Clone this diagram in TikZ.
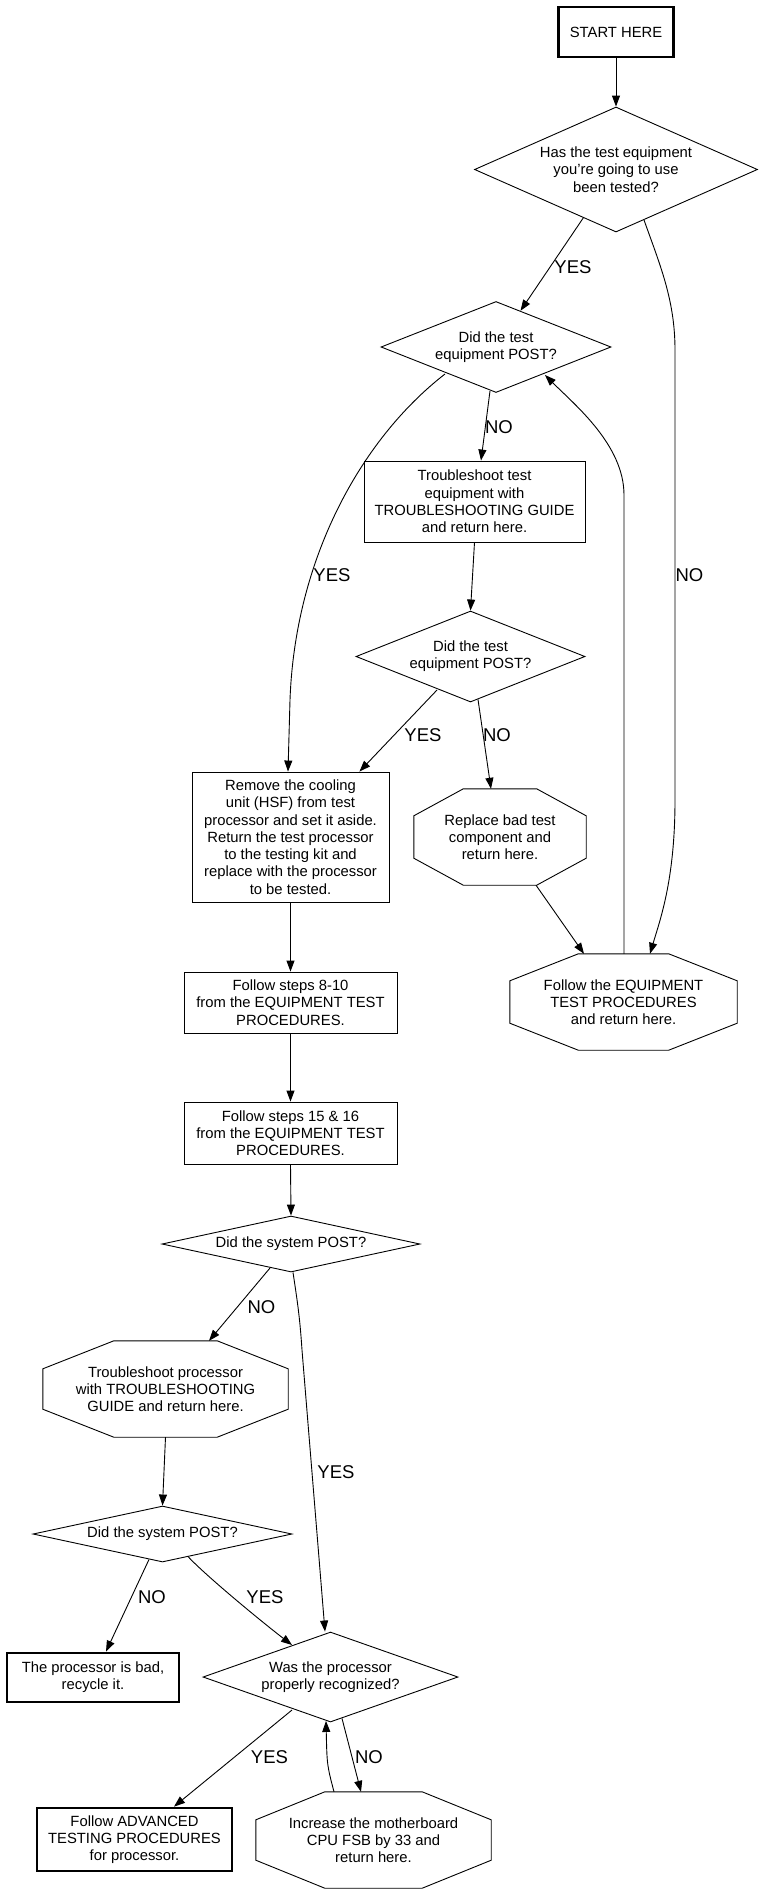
\documentclass[tikz,border=0pt]{standalone}
\usepackage{fontspec}
\setmainfont{Liberation Sans}
\usetikzlibrary{shapes.geometric,arrows.meta,calc}
\newcommand\octdraw[3]{\draw[thinline] ($(#1.north west)+(#2,0)$) -- ($(#1.north east)+(-#2,0)$) -- ($(#1.north east)+(0,#3)$) -- ($(#1.south east)+(0,-#3)$) -- ($(#1.south east)+(-#2,0)$) -- ($(#1.south west)+(#2,0)$) -- ($(#1.south west)+(0,-#3)$) -- ($(#1.north west)+(0,#3)$) -- cycle;}
\begin{document}
\begin{tikzpicture}[x=1pt,y=-1pt,
  every node/.style={font=\fontsize{14.8}{17.3}\selectfont, align=center, inner sep=0pt},
  thinline/.style={line width=0.9pt},
  box/.style={draw, rectangle, thinline},
  bbox/.style={draw, rectangle, line width=2.8pt},
  dia/.style={draw, diamond, thinline},
  oct/.style={rectangle},
  arr/.style={thinline, -{Triangle[length=11pt,width=8pt]}},
  lab/.style={font=\fontsize{18.5}{22}\selectfont}]
\useasboundingbox (0,0) rectangle (758,1895);

% nodes
\node[bbox, minimum width=115, minimum height=50] (start) at (616,32) {START HERE};
\node[dia, minimum width=283, minimum height=125, shape aspect=2.26] (d1) at (616,169.5) {Has the test equipment\\you're going to use\\been tested?};
\node[dia, minimum width=230, minimum height=91, shape aspect=2.53] (d2) at (496,347) {Did the test\\equipment POST?};
\node[box, minimum width=221, minimum height=81] (ts1) at (474.5,501.5) {Troubleshoot test\\equipment with\\TROUBLESHOOTING GUIDE\\and return here.};
\node[dia, minimum width=229, minimum height=91, shape aspect=2.52] (d3) at (470.5,656.5) {Did the test\\equipment POST?};
\node[box, minimum width=197, minimum height=130] (remove) at (290.5,837) {Remove the cooling\\unit (HSF) from test\\processor and set it aside.\\Return the test processor\\to the testing kit and\\replace with the processor\\to be tested.};
\node[oct, minimum width=172, minimum height=96] (rep) at (500,837) {Replace bad test\\component and\\return here.};
\node[oct, minimum width=227, minimum height=96] (eq) at (623.5,1002) {Follow the EQUIPMENT\\TEST PROCEDURES\\and return here.};
\node[box, minimum width=213, minimum height=61] (f810) at (290.5,1002.5) {Follow steps 8-10\\from the EQUIPMENT TEST\\PROCEDURES.};
\node[box, minimum width=213, minimum height=62] (f1516) at (290.5,1133) {Follow steps 15 \& 16\\from the EQUIPMENT TEST\\PROCEDURES.};
\node[dia, minimum width=258, minimum height=56, shape aspect=4.6] (d4) at (291,1244) {Did the system POST?};
\node[oct, minimum width=245, minimum height=96] (tsp) at (165.5,1389) {Troubleshoot processor\\with TROUBLESHOOTING\\GUIDE and return here.};
\node[dia, minimum width=259, minimum height=56, shape aspect=4.6] (d5) at (162.5,1534) {Did the system POST?};
\node[bbox, minimum width=172, minimum height=49] (bad) at (93,1677.5) {The processor is bad,\\recycle it.};
\node[dia, minimum width=255, minimum height=90, shape aspect=2.83] (d6) at (330.5,1677) {Was the processor\\properly recognized?};
\node[bbox, minimum width=195, minimum height=63] (adv) at (134.5,1839.5) {Follow ADVANCED\\TESTING PROCEDURES\\for processor.};
\node[oct, minimum width=235, minimum height=96] (inc) at (373.5,1840) {Increase the motherboard\\CPU FSB by 33 and\\return here.};

\octdraw{rep}{49.5}{27}
\octdraw{eq}{68.5}{27}
\octdraw{tsp}{71}{28}
\octdraw{inc}{69}{28}

% edges
\draw[arr] (start) -- (d1);
\draw[arr] (d1) -- (d2);
\node[lab] (l1) at (573,267) {YES};

\draw[arr] ($(d1)+(28,50.5)$) .. controls (660,265) and (675,300) .. (675,350) -- (675,800) .. controls (675,880) and (660,920) .. ($(eq.north)+(26.5,0)$);
\node[lab] (l2) at (689.5,575) {NO};

\draw[arr] ($(d2)+(-51,27)$) .. controls (360,440) and (295,560) .. (290,700) -- ($(remove.north)+(-2.5,0)$);
\node[lab] (l3) at (332,575) {YES};

\draw[arr] ($(d2.south)+(-6,-2)$) -- ($(ts1.north)+(6.5,0)$);
\node[lab] (l4) at (499,427) {NO};

\draw[arr] (ts1.south) -- (d3.north);

\draw[arr] ($(d3)+(-33.5,33.5)$) -- ($(remove.north east)+(-30,0)$);
\node[lab] (l5) at (423,735) {YES};

\draw[arr] ($(d3.south)+(7.5,-3)$) -- ($(rep.north)+(-9,0)$);
\node[lab] (l6) at (497,735) {NO};

\draw[arr] ($(rep.south)+(36,0)$) -- ($(eq.north)+(-39.5,0)$);

\draw[arr] ($(eq.north)+(0.5,0)$) -- (624,495) .. controls (624,445) and (575,405) .. ($(d2)+(49,28)$);

\draw[arr] (remove.south) -- (f810.north);
\draw[arr] (f810.south) -- (f1516.north);
\draw[arr] (f1516.south) -- (d4.north);

\draw[arr] ($(d4)+(-21,24)$) -- ($(tsp.north)+(43.5,0)$);
\node[lab] (l7) at (261.5,1307) {NO};

\draw[arr] ($(d4.south)+(2,0)$) .. controls (298,1305) and (300,1320) .. (302,1350) -- ($(d6.north)+(-5.5,0)$);
\node[lab] (l8) at (336,1472) {YES};

\draw[arr] (tsp.south) -- (d5.north);

\draw[arr] ($(d5.south)+(-13.5,-3)$) -- ($(bad.north)+(13,0)$);
\node[lab] (l9) at (152,1597) {NO};

\draw[arr] ($(d5)+(25.5,22.5)$) .. controls (205,1575) and (262,1622) .. ($(d6)+(-38.5,-32)$);
\node[lab] (l10) at (265,1597) {YES};

\draw[arr] ($(d6)+(-38.5,33)$) -- ($(adv.north)+(39.5,0)$);
\node[lab] (l11) at (269.5,1757) {YES};

\draw[arr] ($(d6.south)+(11.5,-4)$) -- ($(inc.north)+(-12.5,0)$);
\node[lab] (l12) at (369,1757) {NO};

\draw[arr] ($(inc.north)+(-39.5,0)$) .. controls (327,1765) .. ($(d6.south)+(-4.5,-1.5)$);
\end{tikzpicture}
\end{document}
